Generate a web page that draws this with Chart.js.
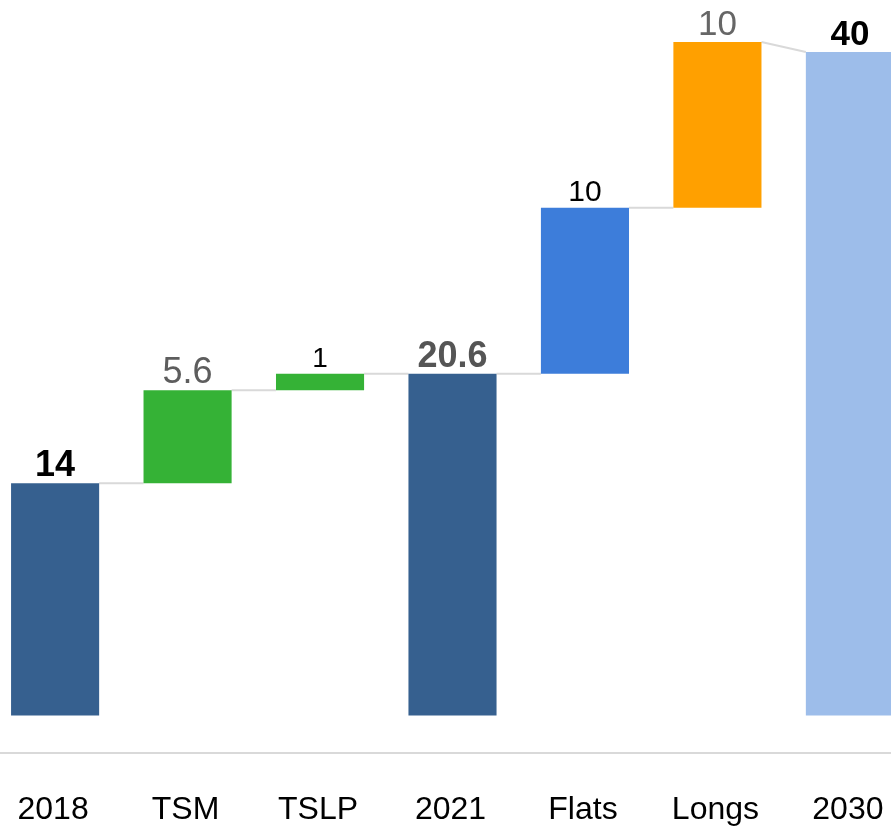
<!DOCTYPE html>
<html>
<head>
<meta charset="utf-8">
<script src="https://cdn.jsdelivr.net/npm/chart.js@4"></script>
<style>
  html, body { margin: 0; padding: 0; background: #fff; overflow: hidden; }
  body { width: 891px; height: 828px; position: relative; }
  #wrap { position: absolute; left: -18px; top: 1px; width: 941px; height: 868px; }
</style>
</head>
<body>
<div id="wrap"><canvas id="grafico"></canvas></div>
<script>
const categories = ['2018', 'TSM', 'TSLP', '2021', 'Flats', 'Longs', '2030']
const values = [14, 5.6, 1, 20.6, 10, 10, 40]
const isTotal = [true, false, false, true, false, false, true]
const labelTexts = ['14', '5.6', '1', '20.6', '10', '10', '40']

// floating bars: totals start at 0, steps start at the running total
let running = 0
const ranges = values.map((v, i) => {
  if (isTotal[i]) { running = v; return [0, v] }
  const r = [running, running + v]
  running += v
  return r
})

const barColors = ['#36608F', '#35B236', '#35B236', '#36608F', '#3D7DDA', '#FFA000', '#9DBDEA']
const labelStyles = [
  { font: 'bold 36px "Liberation Sans", Arial', color: '#000' },
  { font: '36px "Liberation Sans", Arial', color: '#5d5d5d' },
  { font: '28px "Liberation Sans", Arial', color: '#000' },
  { font: 'bold 36px "Liberation Sans", Arial', color: '#555' },
  { font: '30px "Liberation Sans", Arial', color: '#000' },
  { font: '35px "Liberation Sans", Arial', color: '#666' },
  { font: 'bold 35px "Liberation Sans", Arial', color: '#000' }
]

const waterfallExtras = {
  id: 'waterfallExtras',
  beforeDatasetsDraw(chart) {
    const { ctx } = chart
    const y = chart.scales.y
    const bars = chart.getDatasetMeta(0).data
    ctx.save()
    ctx.strokeStyle = '#d9d9d9'
    ctx.lineWidth = 2
    for (let i = 0; i < bars.length - 1; i++) {
      const a = bars[i], b = bars[i + 1]
      const fromVal = ranges[i][1]
      const toVal = isTotal[i + 1] ? ranges[i + 1][1] : ranges[i + 1][0]
      ctx.beginPath()
      ctx.moveTo(a.x + a.width / 2, y.getPixelForValue(fromVal))
      ctx.lineTo(b.x - b.width / 2, y.getPixelForValue(toVal))
      ctx.stroke()
    }
    ctx.restore()
  },
  afterDatasetsDraw(chart) {
    const { ctx } = chart
    const y = chart.scales.y
    const bars = chart.getDatasetMeta(0).data
    ctx.save()
    ctx.textAlign = 'center'
    ctx.textBaseline = 'alphabetic'
    bars.forEach((bar, i) => {
      ctx.font = labelStyles[i].font
      ctx.fillStyle = labelStyles[i].color
      ctx.fillText(labelTexts[i], bar.x, y.getPixelForValue(ranges[i][1]) - 7)
    })
    ctx.restore()
  }
}

new Chart(document.getElementById('grafico'), {
  type: 'bar',
  data: {
    labels: categories,
    datasets: [{
      data: ranges,
      backgroundColor: barColors,
      borderWidth: 0,
      borderSkipped: false,
      barPercentage: 1,
      categoryPercentage: 0.665
    }]
  },
  options: {
    responsive: true,
    maintainAspectRatio: false,
    animation: false,
    layout: { padding: { top: 0, left: 0, right: 0, bottom: 2 } },
    plugins: {
      legend: { display: false },
      tooltip: { enabled: false }
    },
    scales: {
      x: {
        grid: { display: false, drawTicks: false },
        border: { display: true, color: '#d9d9d9', width: 2 },
        ticks: {
          color: '#000',
          padding: 38,
          labelOffset: -2,
          font: { family: '"Liberation Sans", Arial', size: 32 }
        }
      },
      y: {
        display: false,
        min: -2.24,
        max: 43.07
      }
    }
  },
  plugins: [waterfallExtras]
})
</script>
</body>
</html>
